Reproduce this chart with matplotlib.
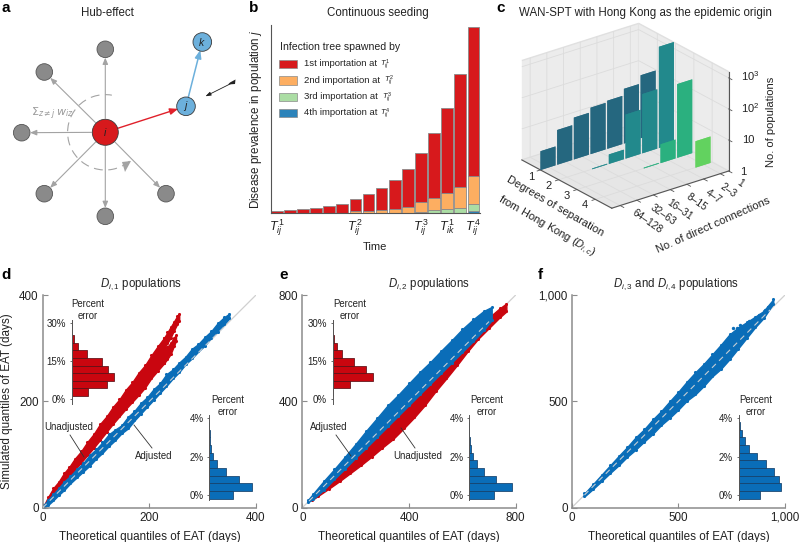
#!/usr/bin/env python3
# -*- coding: utf-8 -*-
import matplotlib
matplotlib.use('Agg')
import matplotlib.pyplot as plt
from matplotlib.patches import Circle, Arc, FancyArrowPatch, Rectangle, Polygon
import numpy as np

plt.rcParams['font.family'] = ['Liberation Sans', 'DejaVu Sans']
plt.rcParams['mathtext.fontset'] = 'custom'
plt.rcParams['mathtext.rm'] = 'Liberation Sans'
plt.rcParams['mathtext.it'] = 'Liberation Sans:italic'
plt.rcParams['mathtext.bf'] = 'Liberation Sans:bold'

W, H = 800, 542
TXT = '#222222'
RED = '#c9060f'
BLUE = '#0a6db8'

# panel b: stacked bar heights
b_first = [6, 9, 12, 15, 21, 27, 38, 49, 66, 86, 112, 147, 195, 257, 338, 446]
b_second = [0, 0, 0, 0, 0, 0, 6, 8, 10, 14, 20, 30, 36, 48, 65, 84]
b_third = [0, 0, 0, 0, 0, 0, 0, 0, 0, 0, 0, 5, 9, 12, 15, 22]
b_fourth = [0, 0, 0, 0, 0, 0, 0, 0, 0, 0, 0, 0, 0, 0, 0, 6]
b_tick_bars = [0, 6, 11, 13, 15]
b_tick_labels = [r'$T^{\,1}_{ij}$', r'$T^{\,2}_{ij}$', r'$T^{\,3}_{ij}$', r'$T^{\,1}_{ik}$', r'$T^{\,4}_{ij}$']
b_legend_labels = ['1st importation at', '2nd importation at', '3rd importation at', '4th importation at']
b_legend_times = [r'$T^{\,1}_{ij}$', r'$T^{\,2}_{ij}$', r'$T^{\,3}_{ij}$', r'$T^{\,4}_{ij}$']
b_colors = ['#d7191c', '#fdae61', '#abdda4', '#2b83ba']

# panel c: number of populations, per degree of separation
c_conn_labels = ['64–128', '32–63', '16–31', '8–15', '4–7', '2–3', '1']
c_deg1 = [4, 13, 22, 31, 35, 57, 105]
c_deg2 = [0, 0, 1.05, 2, 26, 80, 1800]
c_deg3 = [0, 0, 0, 0, 1.05, 4, 234]
c_deg4 = [0, 0, 0, 0, 0, 0, 7]
c_colors = ['#25677f', '#22898c', '#2bb07f', '#62d25f']

# panel d: simulated vs theoretical quantile bands
d_red_x = [3, 10, 20, 30, 40, 50, 60, 72, 84, 96, 108, 120, 132, 144, 156, 168, 180, 192, 204, 216, 228]
d_red_lo = [3, 11, 23, 35, 47, 59, 71, 85, 99, 113, 128, 143, 158, 172, 186, 199, 212, 226, 244, 258, 272]
d_red_hi = [6, 20, 37, 49, 65, 77, 92, 106, 124, 139, 158, 172, 190, 204, 222, 236, 254, 268, 287, 304, 320]
d_red_up_x = [228, 234, 240, 246, 252, 256]
d_red_up_lo = [300, 310, 320, 333, 345, 352]
d_red_up_hi = [320, 330, 340, 350, 360, 365]
d_red_low_x = [228, 234, 240, 246, 250]
d_red_low_lo = [272, 280, 289, 304, 314]
d_red_low_hi = [296, 303, 310, 320, 325]
d_blue_x = [2, 10, 20, 30, 40, 52, 64, 76, 88, 100, 112, 124, 136, 148, 160, 172, 184, 196, 208, 220, 232, 244, 256, 268, 280, 292, 304, 316, 328, 340, 350]
d_blue_lo = [0, 5, 14, 24, 33, 46, 57, 68, 79, 92, 103, 116, 127, 140, 149, 164, 177, 190, 203, 216, 229, 243, 255, 270, 281, 294, 305, 320, 331, 345, 356]
d_blue_hi = [5, 15, 26, 37, 49, 60, 73, 84, 99, 110, 123, 138, 147, 155, 171, 182, 197, 208, 223, 234, 251, 260, 273, 284, 299, 308, 321, 332, 347, 358, 365]

# panel e
e_blue_x = [20, 40, 80, 120, 160, 200, 240, 280, 320, 360, 400, 440, 480, 520, 560, 600, 640, 680, 710]
e_blue_lo = [20, 32, 67, 108, 147, 188, 226, 266, 306, 346, 386, 426, 466, 506, 546, 586, 626, 668, 705]
e_blue_hi = [28, 52, 100, 145, 192, 240, 290, 337, 385, 425, 468, 510, 548, 590, 630, 672, 708, 740, 755]
e_red_x = [35, 60, 100, 140, 180, 220, 260, 300, 340, 380, 420, 460, 500, 540, 580, 620, 660, 700, 740, 765]
e_red_lo = [28, 45, 72, 100, 130, 160, 192, 226, 258, 298, 340, 386, 438, 486, 536, 588, 636, 676, 716, 738]
e_red_hi = [38, 66, 110, 150, 192, 232, 272, 312, 352, 392, 432, 472, 512, 552, 592, 632, 672, 716, 750, 768]

# panel f
f_x = [60, 100, 140, 180, 220, 260, 300, 340, 380, 420, 460, 500, 540, 580, 620, 660, 700, 740, 780, 820, 860, 900, 945]
f_lo = [53, 88, 125, 163, 199, 239, 273, 311, 347, 389, 423, 461, 503, 533, 573, 618, 653, 698, 748, 798, 848, 892, 960]
f_hi = [67, 111, 155, 199, 243, 285, 331, 369, 415, 455, 501, 545, 593, 637, 677, 722, 767, 815, 847, 872, 898, 925, 980]
f_out_x = [758, 775, 790, 830, 880, 905, 920, 935]
f_out_y = [843, 845, 860, 880, 905, 930, 945, 955]

# percent error histograms (bin centre in percent, bar length)
red_bins = [2.8, 5.8, 8.8, 11.8, 14.8, 17.8, 20.8, 23.8, 26.8, 29.8]
blue_bins = [0.0, 0.4, 0.8, 1.2, 1.6, 2.0, 2.4, 2.8, 3.2, 3.6]
d_red_hist = [48, 105, 127, 108, 90, 47, 18, 7, 1, 1]
d_blue_hist = [72, 127, 88, 49, 24, 12, 6, 2, 1, 0]
e_red_hist = [2, 51, 122, 99, 65, 27, 13, 5, 2, 2]
e_blue_hist = [75, 128, 81, 44, 23, 11, 5, 2, 1, 0]
f_blue_hist = [63, 126, 121, 107, 83, 56, 32, 18, 10, 3]

fig = plt.figure(figsize=(W / 100, H / 100), dpi=100)
fig.patch.set_facecolor('white')


def px_axes(left, top, right, bottom, **kw):
    return fig.add_axes([left / W, 1 - bottom / H, (right - left) / W, (bottom - top) / H], **kw)


def qq_panel(left, right, vmax, ticks, ticklabels):
    ax = px_axes(left, 295, right, 507.7)
    ax.set_xlim(0, vmax)
    ax.set_ylim(0, vmax)
    ax.patch.set_alpha(0)
    for s in ['top', 'right']:
        ax.spines[s].set_visible(False)
    for s in ['left', 'bottom']:
        ax.spines[s].set_color('#8c8c8c')
        ax.spines[s].set_linewidth(1.1)
    ax.set_xticks(ticks)
    ax.set_yticks(ticks)
    ax.set_xticklabels(ticklabels)
    ax.set_yticklabels(ticklabels)
    ax.tick_params(direction='in', length=3.5, width=0.8, color='#8c8c8c', labelsize=8.4,
                   labelcolor=TXT, pad=3)
    ax.set_xlabel('Theoretical quantiles of EAT (days)', fontsize=8.4, color=TXT, labelpad=5)
    ax.plot([0, vmax], [0, vmax], color='#d0d0d0', lw=0.9, zorder=1)
    return ax


def band(ax, x, lo, hi, color):
    ax.fill_between(x, lo, hi, facecolor=color, edgecolor=color, lw=1.0, zorder=2)
    ax.scatter(x, lo, s=5, color=color, lw=0, zorder=2)
    ax.scatter(x, hi, s=5, color=color, lw=0, zorder=2)


def diag(ax, vmin, vmax):
    ax.plot([vmin, vmax], [vmin, vmax], color='#c4cdd4', lw=0.8, ls=(0, (5, 4)), zorder=3)


def hist_inset(left, zero_y, span_y, span_pct, bins, hist, color, edge, ticks, step, ticklabels):
    # zero_y / span_y are pixels: position of 0% and height of span_pct
    per_pct = span_y / span_pct
    top_pct = span_pct + 0.4 * (span_pct / 10)
    bottom_pct = -step * 0.6
    top = zero_y - top_pct * per_pct
    bottom = zero_y - bottom_pct * per_pct
    ax = px_axes(left, top, left + 50, bottom)
    ax.patch.set_alpha(0)
    ax.barh(bins, hist, height=step, color=color, edgecolor=edge, linewidth=0.55)
    ax.set_xlim(0, 150)
    ax.set_ylim(bottom_pct, top_pct)
    for s in ['top', 'right', 'bottom']:
        ax.spines[s].set_visible(False)
    ax.spines['left'].set_color('#555555')
    ax.spines['left'].set_linewidth(0.7)
    ax.set_xticks([])
    ax.set_yticks(ticks)
    ax.set_yticklabels(ticklabels)
    ax.tick_params(axis='y', direction='out', length=1.5, width=0.6, color='#555555',
                   labelsize=7, labelcolor=TXT, pad=2.5)
    return ax


# panel d
ax_d = qq_panel(42.7, 256, 400, [0, 200, 400], ['0', '200', '400'])
ax_d.set_ylabel('Simulated quantiles of EAT (days)', fontsize=8.4, color=TXT, labelpad=4)
band(ax_d, d_red_x, d_red_lo, d_red_hi, RED)
band(ax_d, d_red_up_x, d_red_up_lo, d_red_up_hi, RED)
band(ax_d, d_red_low_x, d_red_low_lo, d_red_low_hi, RED)
band(ax_d, d_blue_x, d_blue_lo, d_blue_hi, BLUE)
diag(ax_d, 0, 345)

# panel e
ax_e = qq_panel(302.3, 515.7, 800, [0, 400, 800], ['0', '400', '800'])
band(ax_e, e_red_x, e_red_lo, e_red_hi, RED)
band(ax_e, e_blue_x, e_blue_lo, e_blue_hi, BLUE)
diag(ax_e, 25, 700)

# panel f
ax_f = qq_panel(571.7, 785, 1000, [0, 500, 1000], ['0', '500', '1,000'])
band(ax_f, f_x, f_lo, f_hi, BLUE)
ax_f.scatter(f_out_x, f_out_y, s=6, color=BLUE, lw=0, zorder=2)
diag(ax_f, 60, 930)

# inset histograms
hist_inset(71.7, 399.3, 76, 30, red_bins, d_red_hist, RED, '#5a1015', [0, 15, 30], 3, ['0%', '15%', '30%'])
hist_inset(209.3, 495, 76.7, 4, blue_bins, d_blue_hist, BLUE, '#14406a', [0, 2, 4], 0.4, ['0%', '2%', '4%'])
hist_inset(332.7, 399.3, 76, 30, red_bins, e_red_hist, RED, '#5a1015', [0, 15, 30], 3, ['0%', '15%', '30%'])
hist_inset(469, 495, 76.7, 4, blue_bins, e_blue_hist, BLUE, '#14406a', [0, 2, 4], 0.4, ['0%', '2%', '4%'])
hist_inset(738.7, 495, 76.7, 4, blue_bins, f_blue_hist, BLUE, '#14406a', [0, 2, 4], 0.4, ['0%', '2%', '4%'])

# panel b
ax_b = px_axes(270.7, 25, 480, 213.3)
bottom = np.zeros(len(b_first))
for vals, col in zip([b_fourth, b_third, b_second, b_first], b_colors[::-1]):
    vals = np.array(vals, dtype=float)
    ax_b.bar(np.arange(len(vals))[vals > 0], vals[vals > 0], bottom=bottom[vals > 0], width=0.89,
             color=col, edgecolor='#8a8a8a', linewidth=0.6)
    bottom += vals
ax_b.set_xlim(-0.458, 15.5)
ax_b.set_ylim(0, 565)
for s in ['top', 'right']:
    ax_b.spines[s].set_visible(False)
ax_b.spines['left'].set_color('#555555')
ax_b.spines['bottom'].set_color('#555555')
ax_b.spines['left'].set_linewidth(0.8)
ax_b.spines['bottom'].set_linewidth(0.8)
ax_b.set_yticks([])
ax_b.set_xticks(b_tick_bars)
ax_b.set_xticklabels(b_tick_labels)
ax_b.tick_params(axis='x', length=0, labelsize=9, labelcolor=TXT, pad=3)
ax_b.set_xlabel('Time', fontsize=8, color=TXT, labelpad=3)
ax_b.set_ylabel('Disease prevalence in population $j$', fontsize=8.4, color=TXT, labelpad=5)

# panel c
ax_c = fig.add_axes([497 / W, 1 - 238 / H, 250 / W, 238 / H], projection='3d')
ax_c.patch.set_alpha(0)
ax_c.set_proj_type('ortho')
ax_c.view_init(elev=24.4, azim=-37.6)
ax_c.set_box_aspect((1, 1, 0.74), zoom=0.96)
ax_c.computed_zorder = False
for row, (vals, col) in enumerate(zip([c_deg1, c_deg2, c_deg3, c_deg4], c_colors)):
    vals = np.array(vals, dtype=float)
    keep = vals > 0
    heights = np.log10(vals[keep])
    heights = np.maximum(heights, 0.02)
    ys = np.arange(len(vals))[keep]
    ax_c.bar3d(np.full(ys.shape, row + 1.0), ys - 0.5, np.zeros(ys.shape), 0.01, 0.89, heights,
               color=col, shade=False, zorder=5 + row)
xl0, xl1 = -0.02, 4.9
ax_c.set_xlim(xl0, xl1)
ax_c.set_ylim(-0.5, 6.5)
ax_c.set_zlim(0, 3.2)
ax_c.set_xticks([1, 2, 3, 4])
ax_c.set_yticks(range(7))
ax_c.set_zticks([0, 1, 2, 3])
ax_c.set_xticklabels([])
ax_c.set_yticklabels([])
ax_c.set_zticklabels([])
for axis in [ax_c.xaxis, ax_c.yaxis, ax_c.zaxis]:
    axis.set_pane_color('#ececec')
    axis.pane.set_edgecolor('#e0e0e0')
    axis.line.set_color((0, 0, 0, 0))
    axis._axinfo['grid']['color'] = '#dcdcdc'
    axis._axinfo['grid']['linewidth'] = 0.6
    axis._axinfo['tick']['inward_factor'] = 0
    axis._axinfo['tick']['outward_factor'] = 0
ax_c.zaxis.set_pane_color('#e6e6e6')
# front box edges and ticks
ax_c.plot([xl0, xl1], [-0.5, -0.5], [0, 0], color='#555555', lw=0.8, zorder=4)
ax_c.plot([xl1, xl1], [-0.5, 6.5], [0, 0], color='#555555', lw=0.8, zorder=4)
ax_c.plot([xl1, xl1], [6.5, 6.5], [0, 3.2], color='#555555', lw=0.8, zorder=4)
for xv in [1, 2, 3, 4]:
    ax_c.plot([xv, xv], [-0.5, -0.7], [0, 0], color='#555555', lw=0.6, zorder=4)
for yv in range(7):
    ax_c.plot([xl1, xl1 + 0.2], [yv, yv], [0, 0], color='#555555', lw=0.6, zorder=4)
for zv in [0, 1, 2, 3]:
    ax_c.plot([xl1, xl1 + 0.18], [6.5, 6.5], [zv, zv], color='#555555', lw=0.6, zorder=4)

# overlay in pixel coordinates: diagram of panel a, letters, annotations
ov = fig.add_axes([0, 0, 1, 1])
ov.set_xlim(0, W)
ov.set_ylim(H, 0)
ov.axis('off')
ov.patch.set_alpha(0)

hub = (105.3, 132.3)
node_j = (186, 106.3)
node_k = (202.3, 42)
gray_nodes = [(105.3, 49.3), (44.3, 72), (21.7, 132.7), (44.3, 193.7), (105.3, 216.3), (166, 193.7)]

for g in gray_nodes:
    ov.add_patch(FancyArrowPatch(hub, g, arrowstyle='-|>,head_length=2.4,head_width=1.0', color='#a3a3a3',
                                 lw=0.8, shrinkA=10, shrinkB=6, mutation_scale=1.6, zorder=2))
    ov.add_patch(Circle(g, 8.3, facecolor='#8a8a8a', edgecolor='#555555', lw=0.6, zorder=3))
ov.add_patch(FancyArrowPatch(hub, node_j, arrowstyle='-|>,head_length=3,head_width=1.2', color='#e0202a',
                             lw=1.0, shrinkA=9, shrinkB=6, mutation_scale=1.6, zorder=2))
ov.add_patch(FancyArrowPatch(node_j, node_k, arrowstyle='-|>,head_length=3,head_width=1.2', color='#6cb0dc',
                             lw=1.1, shrinkA=6, shrinkB=6, mutation_scale=1.6, zorder=2))
ov.add_patch(FancyArrowPatch((235, 81.5), (203, 97.5), arrowstyle='-|>,head_length=2,head_width=0.7', color='#222222',
                             lw=0.6, mutation_scale=1.6, zorder=2))
ov.add_patch(Polygon([(235.5, 79.5), (235, 84), (228, 84.5), (230, 82.5)], closed=True, color='#222222', lw=0, zorder=2))
ov.add_patch(Arc(hub, 75.4, 75.4, theta1=50, theta2=280, color='#a3a3a3', lw=0.8, ls=(0, (8, 5)), zorder=2))
ov.add_patch(Polygon([(131, 161), (122, 162), (125, 172)], closed=True, color='#a3a3a3', lw=0, zorder=2))
ov.add_patch(Circle(hub, 13, facecolor='#d7191c', edgecolor='#3a3a3a', lw=0.6, zorder=3))
ov.add_patch(Circle(node_j, 9.3, facecolor='#6cb0dc', edgecolor='#3a3a3a', lw=0.6, zorder=3))
ov.add_patch(Circle(node_k, 9.3, facecolor='#6cb0dc', edgecolor='#3a3a3a', lw=0.6, zorder=3))
ov.text(hub[0], hub[1], '$i$', ha='center', va='center', fontsize=7.5, color='#222222', zorder=4)
ov.text(node_j[0], node_j[1], '$j$', ha='center', va='center', fontsize=7.5, color='#222222', zorder=4)
ov.text(node_k[0], node_k[1], '$k$', ha='center', va='center', fontsize=7.5, color='#222222', zorder=4)
ov.text(52, 113.5, r'$\Sigma_{z\neq j}\,w_{iz}$', ha='center', va='center', fontsize=8, color='#999999',
        family=['DejaVu Sans'], math_fontfamily='dejavusans')

# panel letters
for letter, lx, ly in [('a', 1, 8), ('b', 249, 8), ('c', 496, 8), ('d', 1, 275), ('e', 279, 275), ('f', 538, 275)]:
    ov.text(lx, ly, letter, fontsize=11, fontweight='bold', ha='left', va='center', color='black')

# titles
for txt, tx, ty in [('Hub-effect', 107.5, 13), ('Continuous seeding', 378, 13),
                    ('WAN-SPT with Hong Kong as the epidemic origin', 645, 13),
                    ('$D_{i,1}$ populations', 141, 284), ('$D_{i,2}$ populations', 429, 284),
                    ('$D_{i,3}$ and $D_{i,4}$ populations', 676, 284)]:
    ov.text(tx, ty, txt, fontsize=8.3, ha='center', va='center', color=TXT)

# legend of panel b
ov.text(280, 46.5, 'Infection tree spawned by', fontsize=7.6, ha='left', va='center', color=TXT)
for lab, tlab, col, ly, tx in zip(b_legend_labels, b_legend_times, b_colors, [64, 80.3, 96.7, 112.7],
                                  [379.5, 384, 381.5, 380]):
    ov.add_patch(Rectangle((279, ly - 4.2), 18, 8.4, facecolor=col, edgecolor='#8a8a8a', lw=0.5, zorder=5))
    ov.text(304.5, ly, lab, fontsize=6.8, ha='left', va='center', color=TXT, zorder=5)
    ov.text(tx, ly, tlab, fontsize=5.6, ha='left', va='center', color=TXT, zorder=5)

# percent error captions
for cx, cy in [(88, 310), (228, 406), (349.5, 310), (487, 406), (756, 406)]:
    ov.text(cx, cy, 'Percent\nerror', fontsize=6.9, ha='center', va='center', color=TXT, linespacing=1.3)

# annotations
for txt, tx, ty, x0, y0, x1, y1 in [('Unadjusted', 69, 427, 70, 435, 84, 457),
                                    ('Adjusted', 153.5, 456, 152, 448, 134, 425),
                                    ('Adjusted', 329, 427, 336, 435, 351, 456),
                                    ('Unadjusted', 418, 456, 415, 448, 401, 428)]:
    ov.text(tx, ty, txt, fontsize=6.9, ha='center', va='center', color=TXT, zorder=6)
    ov.plot([x0, x1], [y0, y1], color='#333333', lw=0.6, zorder=6)

# tick labels and axis labels of panel c
for lab, zx, zy in [('1', 93, 530), ('2', 147, 558), ('3', 201, 587), ('4', 255, 614)]:
    ov.text(500 + zx / 3, zy / 3, lab, fontsize=8, ha='center', va='center', color=TXT)
for lab, zx, zy in zip(c_conn_labels, [443, 490, 540, 590, 640, 685, 722], [663, 643, 628, 607, 590, 572, 548]):
    ov.text(500 + zx / 3, zy / 3, lab, fontsize=7.4, ha='center', va='center', rotation=-35, color=TXT)
for lab, zx, zy in [('1', 730, 515), ('10', 745, 420), ('$10^2$', 750, 325), ('$10^3$', 750, 228)]:
    ov.text(500 + zx / 3, zy / 3, lab, fontsize=8, ha='center', va='center', color=TXT)
ov.text(500 + 813 / 3, 367 / 3, 'No. of populations', fontsize=8, rotation=90, ha='center', va='center', color=TXT)
ov.text(500 + 165 / 3, 620 / 3, 'Degrees of separation', fontsize=8, rotation=-30, ha='center', va='center', color=TXT)
ov.text(500 + 140 / 3, 680 / 3, 'from Hong Kong ($D_{i,c}$)', fontsize=8, rotation=-30, ha='center', va='center', color=TXT)
ov.text(500 + 640 / 3, 675 / 3, 'No. of direct connections', fontsize=8, rotation=24, ha='center', va='center', color=TXT)

fig.savefig('out.png', dpi=100, facecolor='white')
